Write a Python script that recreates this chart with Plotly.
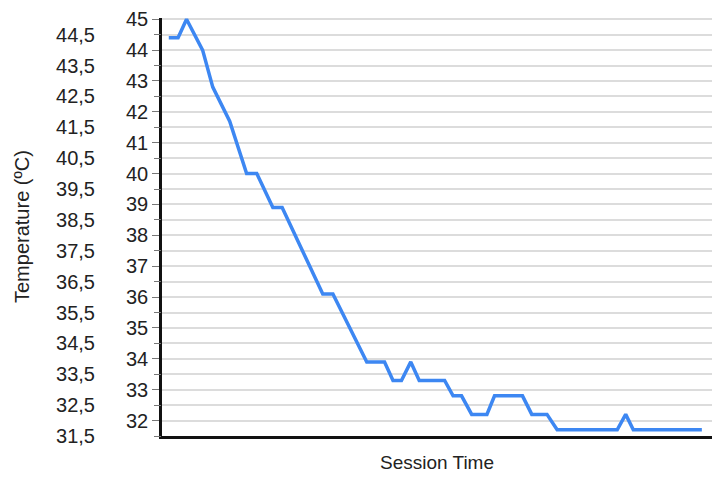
import plotly.graph_objects as go

# Session time (minutes, estimated) and temperature readings at the line's vertices
SESSION_TIME = [0, 1.1, 2.1, 4.0, 5.2, 7.2, 9.2, 10.4, 12.3, 13.4, 18.2, 19.4,
                23.4, 25.5, 26.5, 27.5, 28.6, 29.6, 32.6, 33.6, 34.6, 35.8, 37.6,
                38.5, 41.8, 42.9, 44.7, 45.9, 53.0, 54.0, 54.9, 63.0]
TEMPERATURE = [44.4, 44.4, 45.0, 44.0, 42.8, 41.7, 40.0, 40.0, 38.9, 38.9, 36.1, 36.1,
               33.9, 33.9, 33.3, 33.3, 33.9, 33.3, 33.3, 32.8, 32.8, 32.2, 32.2,
               32.8, 32.8, 32.2, 32.2, 31.7, 31.7, 32.2, 31.7, 31.7]

INT_TICKS = [32, 33, 34, 35, 36, 37, 38, 39, 40, 41, 42, 43, 44, 45]
HALF_TICKS = [31.5, 32.5, 33.5, 34.5, 35.5, 36.5, 37.5, 38.5, 39.5, 40.5, 41.5, 42.5, 43.5, 44.5]
HALF_LABELS = [str(v).replace(".", ",") for v in HALF_TICKS]

FONT = "Arial, Liberation Sans, sans-serif"
GRID = "#dcdcdc"
Y_RANGE = [31.5, 45.04]

fig = go.Figure()
fig.add_trace(go.Scatter(
    x=SESSION_TIME, y=TEMPERATURE, mode="lines",
    line=dict(color="#3d87f2", width=3.5),
    showlegend=False, hoverinfo="skip",
))
# invisible trace to activate the second (half-value) axis
fig.add_trace(go.Scatter(x=[SESSION_TIME[0]], y=[TEMPERATURE[0]], mode="markers",
                         marker=dict(opacity=0), yaxis="y2", showlegend=False, hoverinfo="skip"))

# the page body adds an 8px offset, margins compensate for it
fig.update_layout(
    width=721, height=478,
    margin=dict(l=154, r=17, t=10, b=50, autoexpand=False),
    paper_bgcolor="white", plot_bgcolor="white",
    font=dict(family=FONT, size=20, color="#222"),
    xaxis=dict(
        range=[-0.8, 64.2], showticklabels=False, ticks="", showgrid=False, zeroline=False,
        showline=True, linecolor="#111", linewidth=2.5, automargin=False,
        title=dict(text="Session Time", font=dict(size=19), standoff=18),
    ),
    yaxis=dict(
        range=Y_RANGE, tickvals=INT_TICKS, ticks="outside", ticklen=7, tickcolor="#777",
        showgrid=True, gridcolor=GRID, gridwidth=2, zeroline=False,
        showline=True, linecolor="#111", linewidth=2.5, automargin=False,
        tickfont=dict(size=20), ticklabeloverflow="allow",
    ),
    yaxis2=dict(
        range=Y_RANGE, overlaying="y", side="left", tickvals=HALF_TICKS, ticktext=HALF_LABELS,
        ticks="outside", ticklen=7, tickcolor="#777", ticklabelstandoff=55,
        showgrid=True, gridcolor=GRID, gridwidth=2, zeroline=False, showline=False,
        automargin=False, tickfont=dict(size=20), ticklabeloverflow="allow",
    ),
    annotations=[dict(
        text="Temperature (ºC)", xref="paper", yref="paper",
        x=-0.2545, y=0.5, xanchor="center", yanchor="middle",
        textangle=-90, showarrow=False,
        font=dict(size=20, family=FONT, color="#222"),
    )],
)

fig.write_html("out.html")
